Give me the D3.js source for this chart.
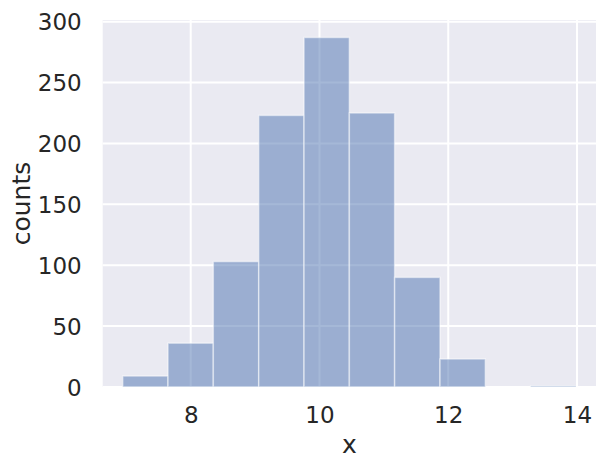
<!DOCTYPE html>
<html>
<head>
<meta charset="utf-8">
<script src="https://cdn.jsdelivr.net/npm/d3@7"></script>
<style>
  html, body { margin: 0; padding: 0; background: #ffffff; }
  svg text { font-family: "DejaVu Sans", sans-serif; fill: #262626; }
</style>
</head>
<body>
<svg id="chart" width="606" height="468"></svg>
<script>
// Data
const binEdges = [6.944, 7.647, 8.351, 9.056, 9.760, 10.464, 11.167, 11.872, 12.576, 13.280, 13.983];
const counts = [9, 36, 103, 223, 287, 225, 90, 23, 0, 1];
const xTicks = [8, 10, 12, 14];
const yTicks = [0, 50, 100, 150, 200, 250, 300];
const xLabel = "x";
const yLabel = "counts";

(function () {
const bins = counts.map((c, i) => ({ x0: binEdges[i], x1: binEdges[i + 1], count: c }));

const svg = d3.select("#chart");
const pLeft = 102.7, pRight = 596, pTop = 20, pBottom = 387;

const x = d3.scaleLinear().domain([6.633, 14.295]).range([pLeft, pRight]);
const y = d3.scaleLinear().domain([0, 301.35]).range([pBottom, pTop]);

// background
svg.append("rect")
  .attr("x", pLeft).attr("y", pTop)
  .attr("width", pRight - pLeft).attr("height", pBottom - pTop)
  .attr("fill", "#eaeaf2");

// grid
const grid = svg.append("g");
grid.selectAll("line.gx").data(xTicks).join("line")
  .attr("class", "gx")
  .attr("x1", d => x(d)).attr("x2", d => x(d))
  .attr("y1", pTop).attr("y2", pBottom)
  .attr("stroke", "#ffffff").attr("stroke-width", 2);
grid.selectAll("line.gy").data(yTicks).join("line")
  .attr("class", "gy")
  .attr("x1", pLeft).attr("x2", pRight)
  .attr("y1", d => y(d)).attr("y2", d => y(d))
  .attr("stroke", "#ffffff").attr("stroke-width", 2);

// bars
svg.append("g").selectAll("rect").data(bins).join("rect")
  .attr("x", d => x(d.x0))
  .attr("y", d => y(d.count))
  .attr("width", d => x(d.x1) - x(d.x0))
  .attr("height", d => y(0) - y(d.count))
  .attr("fill", "#4c72b0").attr("fill-opacity", 0.5)
  .attr("stroke", "#ffffff").attr("stroke-opacity", 0.5)
  .attr("stroke-width", 1.5);

// axes (no tick marks, no domain line)
const xAxis = d3.axisBottom(x).tickValues(xTicks).tickSize(0).tickPadding(0).tickFormat(d3.format("d"));
const gx = svg.append("g").attr("transform", `translate(0,${pBottom})`).call(xAxis);
gx.select(".domain").remove();
gx.selectAll("text")
  .attr("y", 36).attr("dy", null)
  .style("font-size", "23px").attr("fill", "#262626");

const yAxis = d3.axisLeft(y).tickValues(yTicks).tickSize(0).tickPadding(0).tickFormat(d3.format("d"));
const gy = svg.append("g").attr("transform", `translate(${pLeft},0)`).call(yAxis);
gy.select(".domain").remove();
gy.selectAll("text")
  .attr("x", -21).attr("dy", "0.35em")
  .style("font-size", "23px").attr("fill", "#262626");

// axis labels
svg.append("text")
  .attr("x", (pLeft + pRight) / 2).attr("y", 453)
  .attr("text-anchor", "middle")
  .style("font-size", "25px")
  .text(xLabel);

svg.append("text")
  .attr("transform", `translate(30,${(pTop + pBottom) / 2}) rotate(-90)`)
  .attr("text-anchor", "middle")
  .style("font-size", "25px")
  .text(yLabel);
})();
</script>
</body>
</html>
